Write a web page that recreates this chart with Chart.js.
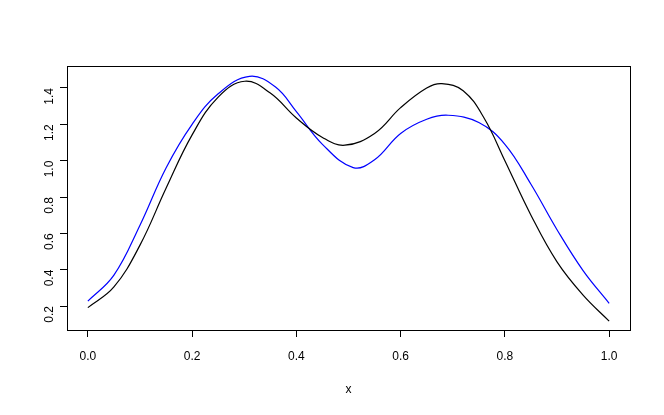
<!DOCTYPE html>
<html>
<head>
<meta charset="utf-8">
<script src="https://cdn.jsdelivr.net/npm/chart.js@4/dist/chart.umd.min.js"></script>
<style>
  html, body { margin: 0; padding: 0; background: #fff; }
  #wrap { width: 664px; height: 415px; }
</style>
</head>
<body>
<div id="wrap"><canvas id="c" width="664" height="415"></canvas></div>
<script>
// valores (picos e vales incluídos)
const blackX = [0, 0.05, 0.1, 0.15, 0.2, 0.25, 0.301, 0.35, 0.4, 0.45, 0.493,
                0.55, 0.6, 0.65, 0.679, 0.72, 0.76, 0.8, 0.85, 0.9, 0.95, 1.0];
const blackY = [0.191, 0.305, 0.535, 0.848, 1.142, 1.35, 1.437, 1.372, 1.235, 1.128, 1.085,
                1.15, 1.292, 1.4, 1.424, 1.385, 1.235, 1.0, 0.7, 0.443, 0.26, 0.117];
const blueX = [0, 0.05, 0.1, 0.15, 0.2, 0.25, 0.31, 0.36, 0.4, 0.45, 0.509,
               0.55, 0.6, 0.65, 0.691, 0.75, 0.8, 0.85, 0.9, 0.95, 1.0];
const blueY = [0.227, 0.37, 0.645, 0.96, 1.2, 1.368, 1.464, 1.405, 1.27, 1.09, 0.962,
               1.005, 1.15, 1.228, 1.25, 1.21, 1.09, 0.87, 0.62, 0.395, 0.215];
const xTicks = [0, 0.2, 0.4, 0.6, 0.8, 1.0];
const yTicks = [0.2, 0.4, 0.6, 0.8, 1.0, 1.2, 1.4];
const xLabel = 'x';

(() => {
  const font = { family: '"Liberation Sans", Arial, Helvetica, sans-serif', size: 12 };
  Chart.defaults.font = font;
  Chart.defaults.color = '#000';

  const toPts = (xs, ys) => xs.map((x, i) => ({ x, y: ys[i] }));

  // caixa em volta da área do gráfico (como o box() do R)
  const boxPlugin = {
    id: 'box',
    afterDraw(chart) {
      const a = chart.chartArea, ctx = chart.ctx;
      ctx.save();
      ctx.strokeStyle = '#000';
      ctx.lineWidth = 1;
      ctx.strokeRect(Math.round(a.left) + 0.5, Math.round(a.top) + 0.5,
                     Math.round(a.right - a.left), Math.round(a.bottom - a.top));
      ctx.restore();
    }
  };

  const line = (xs, ys, color) => ({
    data: toPts(xs, ys),
    borderColor: color,
    borderWidth: 1.2,
    pointRadius: 0,
    tension: 0.4,
    fill: false
  });

  new Chart(document.getElementById('c').getContext('2d'), {
    type: 'line',
    data: { datasets: [line(blackX, blackY, '#000'), line(blueX, blueY, '#0000ff')] },
    options: {
      responsive: false,
      animation: false,
      layout: { padding: { top: 66, right: 34, left: 0, bottom: 0 } },
      plugins: { legend: { display: false }, tooltip: { enabled: false } },
      scales: {
        x: {
          type: 'linear',
          min: -0.04, max: 1.04,
          afterBuildTicks: (s) => { s.ticks = xTicks.map(v => ({ value: v })); },
          afterFit: (s) => { s.height = 85; },
          grid: { drawOnChartArea: false, drawTicks: true, tickLength: 7, tickColor: '#000' },
          border: { display: false },
          ticks: { padding: 12, maxRotation: 0, callback: (v) => v.toFixed(1) },
          title: { display: true, text: xLabel, padding: { top: 0, bottom: 18 } }
        },
        y: {
          type: 'linear',
          min: 0.068, max: 1.521,
          afterBuildTicks: (s) => { s.ticks = yTicks.map(v => ({ value: v })); },
          afterFit: (s) => { s.width = 67; },
          grid: { drawOnChartArea: false, drawTicks: true, tickLength: 7, tickColor: '#000' },
          border: { display: false },
          ticks: { padding: 10, minRotation: 90, maxRotation: 90, callback: (v) => v.toFixed(1) }
        }
      }
    },
    plugins: [boxPlugin]
  });
})();
</script>
</body>
</html>
